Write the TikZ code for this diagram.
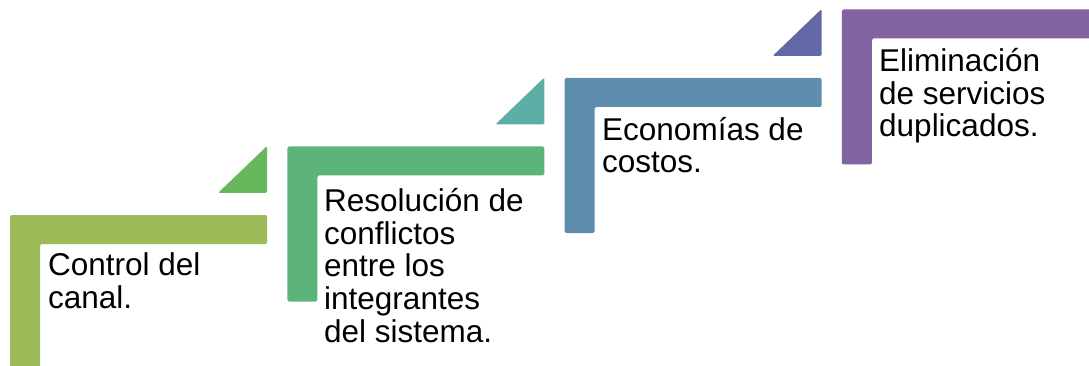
\documentclass[tikz,border=0pt]{standalone}
\usepackage{fontspec}
\setmainfont{Liberation Sans}
\usepackage{xcolor}
\definecolor{barA}{HTML}{9DBB59}
\definecolor{triA}{HTML}{67B75D}
\definecolor{barB}{HTML}{5DB47B}
\definecolor{triB}{HTML}{5CAFA4}
\definecolor{barC}{HTML}{5F8DAD}
\definecolor{triC}{HTML}{6268A6}
\definecolor{barD}{HTML}{8064A1}
\begin{document}
\begin{tikzpicture}[x=1pt, y=-1pt,
  stepBar/.style ={rounded corners=1.5pt},
  stepTri/.style ={rounded corners=1.5pt},
  stepText/.style={anchor=base west, inner sep=0pt, align=left, font=\fontsize{31.5}{32.6}\selectfont},
]
\useasboundingbox (0,0) rectangle (1089,366);
\clip (0,0) rectangle (1089,366);
% four steps: L-shaped bar, small triangle above its right end
\foreach \i/\bar/\tri in {0/barA/triA,1/barB/triB,2/barC/triC,3/barD/barD} {
  \pgfmathsetmacro{\xo}{10+277.3*\i}
  \pgfmathsetmacro{\yo}{215-68.5*\i}
  \fill[stepBar, fill=\bar] (\xo,\yo) -- ++(257,0) -- ++(0,29) -- ++(-227,0) -- ++(0,126) -- ++(-30,0) -- cycle;
  \ifnum\i<3
    \fill[stepTri, fill=\tri] (\xo+257,\yo-69) -- ++(0,47) -- ++(-49,0) -- cycle;
  \fi
}

% step texts (anchored at the baseline of the last line)
\node[stepText] (control)     at (48,308)  {Control del\\canal.};
\node[stepText] (resolucion)  at (324,342) {Resolución de\\conflictos\\entre los\\integrantes\\del sistema.};
\node[stepText] (economias)   at (602,173) {Economías de\\costos.};
\node[stepText] (eliminacion) at (879,137) {Eliminación\\de servicios\\duplicados.};
\end{tikzpicture}
\end{document}
